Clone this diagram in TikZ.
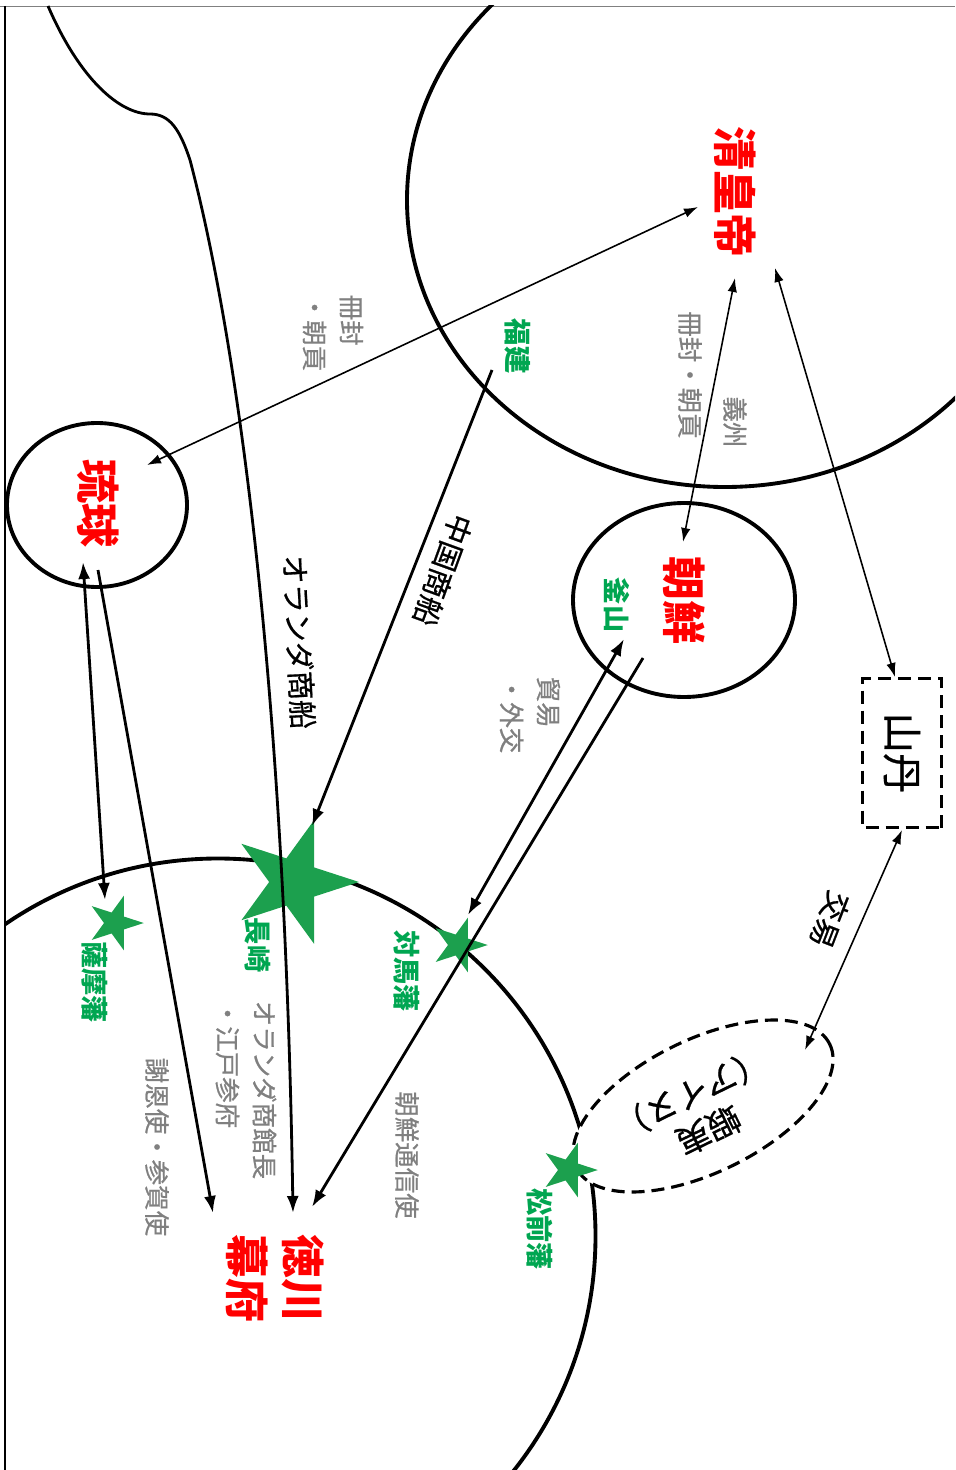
\documentclass[tikz,border=0pt]{standalone}
\usepackage{fontspec}
\setmainfont{Noto Sans CJK JP}
\newfontfamily\jpmed[FakeBold=0.7]{Noto Sans CJK JP}
\usetikzlibrary{arrows.meta,shapes.geometric}
\definecolor{jred}{RGB}{255,0,0}
\definecolor{jgreen}{RGB}{0,166,81}
\definecolor{jstar}{RGB}{28,160,78}
\definecolor{jgray}{RGB}{128,128,128}
\begin{document}
\begin{tikzpicture}[x=0.2mm,y=-0.2mm,
  regionline/.style={line width=2.2pt},
  thickarr/.style={line width=1.6pt,-{Latex[length=3.4mm,width=2.4mm]}},
  thickboth/.style={line width=1.6pt,{Latex[length=3.4mm,width=2.4mm]}-{Latex[length=3.4mm,width=2.4mm]}},
  thinboth/.style={line width=0.9pt,{Latex[length=2.8mm,width=1.9mm]}-{Latex[length=2.8mm,width=1.9mm]}},
  redlbl/.style={text=jred,font=\fontsize{25}{32}\selectfont\bfseries,rotate=-90,inner sep=0,align=center},
  graylbl/.style={text=jgray,font=\jpmed\fontsize{14.5}{21}\selectfont,rotate=-90,inner sep=0,align=left},
  greenlbl/.style={text=jgreen,font=\fontsize{15.5}{19}\selectfont\bfseries,rotate=-90,inner sep=0},
  blacklbl/.style={font=\jpmed\fontsize{16.5}{20}\selectfont,inner sep=0},
  starnode/.style={star,star points=5,star point ratio=2.618,fill=jstar,draw=none,inner sep=0,rotate=-90},
  dashedline/.style={dashed,dash pattern=on 2.6mm off 1.4mm,line width=1.8pt}]
\useasboundingbox (0,0) rectangle (955,1470);
\fill[white] (0,0) rectangle (955,1470);
% frame
\draw[gray,line width=0.5pt] (0,6) -- (955,6);
\draw[line width=1.3pt] (5,6) -- (5,1470);
% big regions
\begin{scope}
\clip (5,6) rectangle (955,1470);
\draw[regionline] (725,200) ellipse [x radius=63.6mm,y radius=57.4mm];
\draw[regionline] (218,1236) circle [radius=75.5mm];
\end{scope}
\node[draw,regionline,ellipse,minimum width=44.4mm,minimum height=38.8mm,inner sep=0] (korea) at (684,600) {};
\node[draw,regionline,ellipse,minimum width=36mm,minimum height=32.8mm,inner sep=0] (ryukyu) at (97,505) {};
% Ezo ellipse
\node[dashedline,draw,fill=white,ellipse,minimum width=56.4mm,minimum height=26.6mm,inner sep=0,rotate=26] (ezo) at (703,1106) {};
% Santan box
\node[dashedline,draw,fill=white,rotate=-90,minimum width=29.8mm,minimum height=15.8mm,inner sep=0,font=\jpmed\fontsize{23}{26}\selectfont] (santan) at (902,753) {山丹};
% stars
\node[starnode,minimum size=26mm] (nagasaki) at (294,882) {};
\node[starnode,minimum size=11.5mm] (satsuma) at (115,923) {};
\node[starnode,minimum size=11.5mm] (tsushima) at (459,945) {};
\node[starnode,minimum size=11.5mm] (matsumae) at (569,1170) {};
% main labels
\node[redlbl] (qing) at (735,192) {清皇帝};
\node[redlbl] (ryukyuL) at (98,503) {琉球};
\node[redlbl] (koreaL) at (684,600) {朝鮮};
\node[redlbl] (bakufu) at (275,1278) {徳川\\幕府};
% green labels
\node[greenlbl] (fujian) at (518,346) {福建};
\node[greenlbl] (busan) at (617,605) {釜山};
\node[greenlbl] (nagasakiL) at (258,945) {長崎};
\node[greenlbl] (satsumaL) at (95,982) {薩摩藩};
\node[greenlbl] (tsushimaL) at (407,971) {対馬藩};
\node[greenlbl] (matsumaeL) at (540,1229) {松前藩};
% gray labels
\node[graylbl] (cfL) at (333,333) {冊封\\・朝貢};
\node[graylbl] (cfK) at (690,375) {冊封・朝貢};
\node[graylbl] (yizhou) at (735,422) {義州};
\node[graylbl] (trade) at (530,715) {貿易\\・外交};
\node[graylbl] (opperhoofd) at (246,1090) {オランダ商館長\\・江戸参府};
\node[graylbl] (shaon) at (157,1147) {謝恩使・参賀使};
\node[graylbl] (tsushinshi) at (407,1155) {朝鮮通信使};
% black labels
\node[blacklbl,rotate=-110] (chinaship) at (443,570) {中国商船};
\node[blacklbl,rotate=-87] (dutchship) at (299,642) {オランダ商船};
\node[blacklbl,rotate=-111] (koeki) at (830,920) {交易};
\node[font=\jpmed\fontsize{19}{23}\selectfont,inner sep=0,align=center,rotate=206] (ezoL) at (700,1112) {蝦夷\\（アイヌ）};
% connector end points
\coordinate (qA) at (698,207);
\coordinate (rA) at (147,465);
\coordinate (qB) at (735,278);
\coordinate (kB) at (683,542);
\coordinate (qC) at (775,268);
\coordinate (sC) at (895,677);
\coordinate (sD) at (902,830);
\coordinate (eD) at (805,1050);
\coordinate (fE) at (492,370);
\coordinate (nE) at (312,826);
\coordinate (rF) at (83,562);
\coordinate (saF) at (105,900);
\coordinate (rG) at (98,570);
\coordinate (bG) at (213,1213);
\coordinate (kH) at (624,639);
\coordinate (tH) at (468,915);
\coordinate (kI) at (643,658);
\coordinate (bI) at (312,1207);
\coordinate (dStart) at (48,6);
\coordinate (dEnd) at (293,1213);
% connectors
\draw[thinboth] (qA) -- (rA);
\draw[thinboth] (qB) -- (kB);
\draw[thinboth] (qC) -- (sC);
\draw[thinboth] (sD) -- (eD);
\draw[thickarr] (fE) -- (nE);
\draw[thickboth] (rF) -- (saF);
\draw[thickarr] (rG) -- (bG);
\draw[thickboth] (kH) -- (tH);
\draw[thickarr] (kI) -- (bI);
\draw[thickarr] (dStart) .. controls (80,80) and (120,114) .. (150,114) .. controls (170,114) and (180,130) .. (190,160) .. controls (240,350) and (285,700) .. (dEnd);
\end{tikzpicture}
\end{document}
